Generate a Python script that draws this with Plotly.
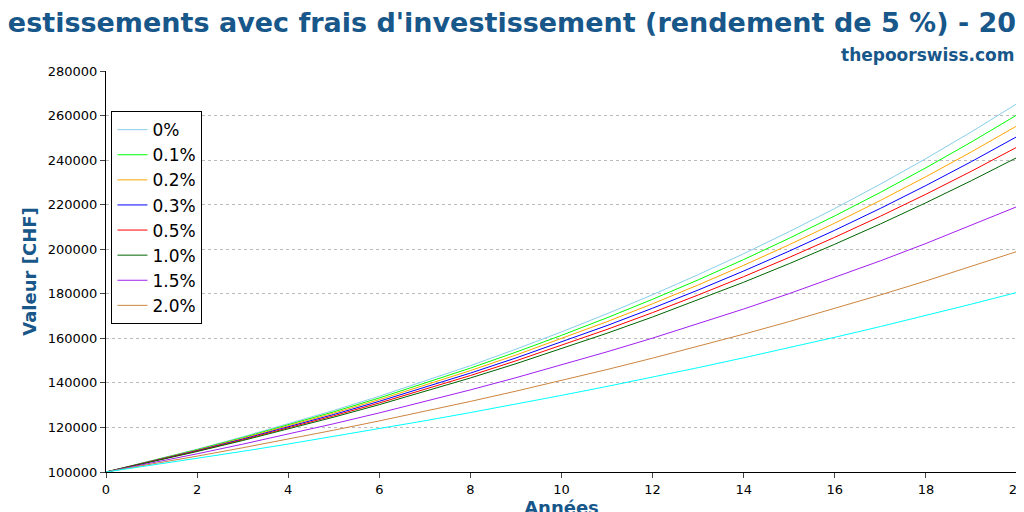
import plotly.graph_objects as go

years = list(range(21))

fee_labels = ["0%", "0.1%", "0.2%", "0.3%", "0.5%", "1.0%", "1.5%", "2.0%", None]
colors = ["skyblue", "lime", "orange", "blue", "red", "darkgreen", "#a020f0", "#cd853f", "cyan"]

v_0 = [100000, 105000, 110250, 115763, 121551, 127628, 134010, 140710, 147746, 155133, 162889,
       171034, 179586, 188565, 197993, 207893, 218287, 229202, 240662, 252695, 265330]
v_01 = [100000, 104900, 110040, 115430, 121080, 127020, 133240, 139770, 146620, 153800, 161340,
        169240, 177530, 186230, 195360, 204930, 214970, 225500, 236550, 248140, 260300]
v_02 = [100000, 104800, 109830, 115100, 120630, 126420, 132480, 138840, 145510, 152490, 159810,
        167480, 175520, 183950, 192780, 202030, 211730, 221890, 232540, 243710, 255400]
v_03 = [100000, 104700, 109620, 114770, 120170, 125810, 131730, 137920, 144400, 151190, 158300,
        165740, 173530, 181680, 190220, 199160, 208520, 218320, 228580, 239330, 250570]
v_05 = [100000, 104600, 109410, 114440, 119710, 125220, 130980, 137000, 143300, 149900, 156790,
        164000, 171550, 179440, 187690, 196330, 205360, 214800, 224680, 235020, 245830]
v_10 = [100000, 104500, 109200, 114120, 119250, 124620, 130230, 136090, 142210, 148610, 155300,
        162290, 169590, 177220, 185190, 193530, 202240, 211340, 220850, 230790, 241170]
v_15 = [100000, 104000, 108160, 112490, 116990, 121670, 126530, 131590, 136860, 142330, 148020,
        153950, 160100, 166510, 173170, 180090, 187300, 194790, 202580, 210680, 219110]
v_20 = [100000, 103500, 107120, 110870, 114750, 118770, 122930, 127230, 131680, 136290, 141060,
        146000, 151110, 156400, 161870, 167530, 173400, 179470, 185750, 192250, 198980]
v_extra = [100000, 103000, 106090, 109270, 112550, 115930, 119410, 122990, 126680, 130480, 134390,
           138420, 142580, 146850, 151260, 155800, 160470, 165280, 170240, 175350, 180610]

series = [v_0, v_01, v_02, v_03, v_05, v_10, v_15, v_20, v_extra]

fig = go.Figure()
for lab, col, vals in zip(fee_labels, colors, series):
    fig.add_trace(go.Scatter(
        x=years, y=vals, mode="lines", name=lab if lab else "",
        showlegend=lab is not None,
        line=dict(color=col, width=1),
    ))

blue = "#18578a"
fig.update_layout(
    width=1024, height=512,
    plot_bgcolor="white", paper_bgcolor="white",
    font=dict(family="DejaVu Sans", color="black", size=13),
    margin=dict(l=98, r=15, t=63, b=48, autoexpand=False),
    title=dict(text="Investissements avec frais d'investissement (rendement de 5 %) - 20 ans",
               x=0.5, xanchor="center", y=0.99, yanchor="top",
               font=dict(size=27, color=blue, family="DejaVu Sans", weight="bold")),
    legend=dict(x=0.006, y=0.9, xanchor="left", yanchor="top",
                bordercolor="black", borderwidth=1, bgcolor="white",
                font=dict(size=17), tracegroupgap=0),
    annotations=[dict(text="<b>thepoorswiss.com</b>", xref="paper", yref="paper",
                      x=1.0, y=1.0, xanchor="right", yanchor="bottom", yshift=4,
                      showarrow=False, font=dict(size=17, color=blue))],
)
fig.update_xaxes(range=[0, 20], dtick=2, showgrid=False, ticks="outside", automargin=False,
                 showline=True, linecolor="black", zeroline=False,
                 title=dict(text="<b>Années</b>", font=dict(size=18, color=blue), standoff=0))
fig.update_yaxes(range=[100000, 280000], dtick=20000, ticks="outside", tickformat="d",
                 automargin=False, showline=True, linecolor="black", zeroline=False,
                 showgrid=True, gridcolor="#bbbbbb", griddash="dot",
                 title=dict(text="<b>Valeur [CHF]</b>", font=dict(size=18, color=blue), standoff=6))

fig.write_html("out.html")
